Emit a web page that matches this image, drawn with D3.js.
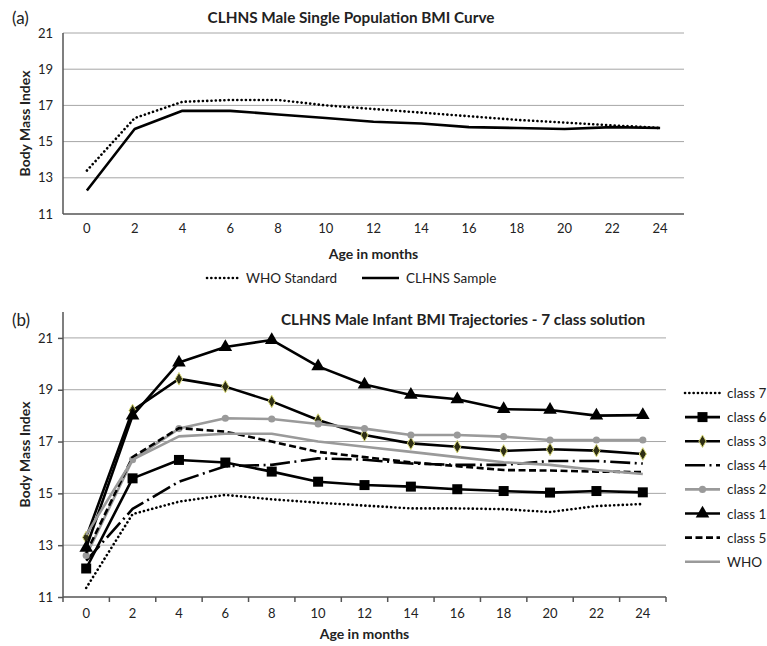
<html>
<head>
	<style type="text/css">
		body { margin: 0; background: white; }
		text { font-family: Lato, "Open Sans", sans-serif; fill: #222; }
		.grid line { stroke: #a6a6a6; stroke-width: 1; }
		.axisline { stroke: #555; stroke-width: 1.5; }
		.tick-lbl { font-size: 13px; }
		.ttl { font-size: 15.3px; font-weight: bold; }
		.axttl { font-size: 14px; font-weight: bold; }
		.leg { font-size: 13.5px; }
		.lbl { font-size: 17px; }
	</style>
	<script src="https://d3js.org/d3.v7.min.js"></script>
</head>
<body>
<script type="text/javascript">

	// x categories (months) and y ticks
	var months = [0, 2, 4, 6, 8, 10, 12, 14, 16, 18, 20, 22, 24];
	var yTicks = [11, 13, 15, 17, 19, 21];

	// panel (a)
	var whoStandard = [13.4, 16.3, 17.2, 17.3, 17.3, 17.0, 16.8, 16.6, 16.4, 16.2, 16.05, 15.9, 15.75];
	var clhnsSample = [12.3, 15.7, 16.7, 16.7, 16.5, 16.3, 16.1, 16.0, 15.8, 15.75, 15.7, 15.8, 15.75];

	// panel (b)
	var class7 = [11.35, 14.2, 14.68, 14.94, 14.77, 14.64, 14.53, 14.42, 14.42, 14.39, 14.28, 14.51, 14.59];
	var class6 = [12.1, 15.58, 16.29, 16.19, 15.84, 15.45, 15.32, 15.26, 15.16, 15.09, 15.03, 15.09, 15.04];
	var class3 = [13.3, 18.2, 19.42, 19.12, 18.55, 17.83, 17.25, 16.93, 16.8, 16.64, 16.7, 16.65, 16.52];
	var class4 = [12.4, 14.4, 15.45, 16.05, 16.1, 16.35, 16.3, 16.15, 16.1, 16.1, 16.25, 16.25, 16.15];
	var class2 = [12.6, 16.3, 17.5, 17.9, 17.87, 17.68, 17.5, 17.25, 17.25, 17.19, 17.06, 17.06, 17.06];
	var class1 = [12.9, 18.0, 20.05, 20.65, 20.92, 19.9, 19.2, 18.8, 18.63, 18.25, 18.22, 18.0, 18.02];
	var class5 = [12.7, 16.4, 17.52, 17.38, 17.0, 16.6, 16.4, 16.2, 16.05, 15.9, 15.88, 15.84, 15.82];
	var whoB = [13.4, 16.3, 17.2, 17.3, 17.3, 17.0, 16.8, 16.6, 16.4, 16.2, 16.1, 15.9, 15.75];

	var seriesA = [
		{name: 'WHO Standard', values: whoStandard, color: 'black', dash: '0.1,4.2', cap: 'round'},
		{name: 'CLHNS Sample', values: clhnsSample, color: 'black', dash: null, cap: 'butt'}
	];

	var seriesB = [
		{name: 'class 7', values: class7, color: 'black', dash: '0.1,4.2', cap: 'round', marker: null},
		{name: 'class 6', values: class6, color: 'black', dash: null, marker: 'square'},
		{name: 'class 3', values: class3, color: 'black', dash: null, marker: 'diamond'},
		{name: 'class 4', values: class4, color: 'black', dash: '20,4.5,2,4.5', marker: null},
		{name: 'class 2', values: class2, color: '#9a9a9a', dash: null, marker: 'circle'},
		{name: 'class 1', values: class1, color: 'black', dash: null, marker: 'triangle'},
		{name: 'class 5', values: class5, color: 'black', dash: '7,3.5', marker: null},
		{name: 'WHO', values: whoB, color: '#9a9a9a', dash: null, marker: null}
	];

	var svg = d3.select('body').append('svg')
		.attr('width', 767)
		.attr('height', 646);

	function draw_panel(opt) {
		var x = d3.scaleBand().domain(months).range([opt.left, opt.right]).padding(0);
		var y = d3.scaleLinear().domain(opt.yDomain).range([opt.bottom, opt.top]);
		var half = x.bandwidth() / 2;
		var g = svg.append('g');

		g.append('g').attr('class', 'grid')
			.selectAll('line')
			.data(yTicks.filter(function(t) { return t > 11; }))
			.enter().append('line')
				.attr('x1', opt.left).attr('x2', opt.right)
				.attr('y1', function(d) { return y(d); })
				.attr('y2', function(d) { return y(d); });

		// y labels
		var yAxis = d3.axisLeft(y).tickValues(yTicks).tickSize(opt.ticks ? 5 : 0).tickPadding(opt.ticks ? 5 : 10);
		var ya = g.append('g').attr('transform', 'translate(' + opt.left + ',0)').call(yAxis);
		ya.select('.domain').remove();
		ya.selectAll('.tick line').attr('stroke', '#555').attr('stroke-width', 1.5);
		ya.selectAll('.tick text').attr('class', 'tick-lbl').attr('font-family', null).attr('font-size', null);

		// x labels
		var xAxis = d3.axisBottom(x).tickSize(0).tickPadding(opt.ticks ? 12 : 10);
		var xa = g.append('g').attr('transform', 'translate(0,' + opt.bottom + ')').call(xAxis);
		xa.select('.domain').remove();
		xa.selectAll('.tick text').attr('class', 'tick-lbl').attr('font-family', null).attr('font-size', null);

		if (opt.ticks) {
			g.selectAll('.xtick')
				.data(months.concat(['end']))
				.enter().append('line')
					.attr('class', 'axisline')
					.attr('x1', function(d) { return d === 'end' ? opt.right : x(d); })
					.attr('x2', function(d) { return d === 'end' ? opt.right : x(d); })
					.attr('y1', opt.bottom).attr('y2', opt.bottom + 5);
		}

		g.append('line').attr('class', 'axisline')
			.attr('x1', opt.left).attr('x2', opt.left)
			.attr('y1', opt.top).attr('y2', opt.bottom);
		g.append('line').attr('class', 'axisline')
			.attr('x1', opt.left).attr('x2', opt.right)
			.attr('y1', opt.bottom).attr('y2', opt.bottom);

		var line = d3.line()
			.x(function(d, i) { return x(months[i]) + half; })
			.y(function(d) { return y(d); });

		opt.series.forEach(function(s) {
			g.append('path')
				.attr('d', line(s.values))
				.attr('fill', 'none')
				.attr('stroke', s.color)
				.attr('stroke-width', 2.6)
				.attr('stroke-linecap', s.cap || 'butt')
				.attr('stroke-linejoin', 'round')
				.attr('stroke-dasharray', s.dash);

			if (s.marker) {
				g.selectAll(null)
					.data(s.values)
					.enter().append('path')
						.attr('transform', function(d, i) { return 'translate(' + (x(months[i]) + half) + ',' + y(d) + ')'; })
						.call(marker, s);
			}
		});

		g.append('text').attr('class', 'ttl')
			.attr('x', opt.titleX).attr('y', opt.titleY)
			.attr('text-anchor', 'middle')
			.text(opt.title);
		g.append('text').attr('class', 'lbl')
			.attr('x', 12).attr('y', opt.titleY + 1)
			.text(opt.label);
		g.append('text').attr('class', 'axttl')
			.attr('transform', 'translate(30,' + ((opt.top + opt.bottom) / 2) + ') rotate(-90)')
			.attr('text-anchor', 'middle')
			.text('Body Mass Index');
		g.append('text').attr('class', 'axttl')
			.attr('x', (opt.left + opt.right) / 2).attr('y', opt.xTitleY)
			.attr('text-anchor', 'middle')
			.text('Age in months');
	}

	function marker(sel, s) {
		var types = {square: d3.symbolSquare, triangle: d3.symbolTriangle, diamond: d3.symbolDiamond, circle: d3.symbolCircle};
		var sizes = {square: 100, triangle: 80, diamond: 45, circle: 40};
		sel.attr('d', d3.symbol().type(types[s.marker]).size(sizes[s.marker]))
			.attr('fill', s.marker === 'diamond' ? '#2e2e14' : s.color)
			.attr('stroke', s.marker === 'diamond' ? '#d8d87a' : 'none')
			.attr('stroke-width', 1);
	}

	draw_panel({
		left: 63, right: 684, top: 33, bottom: 214, yDomain: [11, 21], ticks: false,
		series: seriesA, title: 'CLHNS Male Single Population BMI Curve', titleX: 351, titleY: 23,
		label: '(a)', xTitleY: 259
	});

	draw_panel({
		left: 63, right: 666, top: 312, bottom: 597, yDomain: [11, 22], ticks: true,
		series: seriesB, title: 'CLHNS Male Infant BMI Trajectories - 7 class solution', titleX: 463, titleY: 325,
		label: '(b)', xTitleY: 639
	});

	// legend (a)
	var legA = svg.append('g').selectAll('g')
		.data(seriesA)
		.enter().append('g')
			.attr('transform', function(d, i) { return 'translate(' + [207, 362][i] + ',278)'; });
	legA.append('line')
		.attr('x1', 0).attr('x2', function(d, i) { return i === 0 ? 34 : 37; })
		.attr('stroke', 'black').attr('stroke-width', 2.6)
		.attr('stroke-linecap', function(d) { return d.cap; })
		.attr('stroke-dasharray', function(d) { return d.dash; });
	legA.append('text').attr('class', 'leg')
		.attr('x', function(d, i) { return i === 0 ? 39 : 44; }).attr('y', 5)
		.text(function(d) { return d.name; });

	// legend (b)
	var legB = svg.append('g').selectAll('g')
		.data(seriesB)
		.enter().append('g')
			.attr('transform', function(d, i) { return 'translate(685,' + (393 + i * 24.1) + ')'; });
	legB.append('line')
		.attr('x1', 0).attr('x2', 35)
		.attr('stroke', function(d) { return d.color; }).attr('stroke-width', 2.6)
		.attr('stroke-linecap', function(d) { return d.cap || 'butt'; })
		.attr('stroke-dasharray', function(d) { return d.dash; });
	legB.filter(function(d) { return d.marker; })
		.append('path')
			.attr('transform', 'translate(17.5,0)')
			.each(function(d) { d3.select(this).call(marker, d); });
	legB.append('text').attr('class', 'leg')
		.attr('x', 42).attr('y', 5)
		.text(function(d) { return d.name; });

</script>
</body>
</html>
